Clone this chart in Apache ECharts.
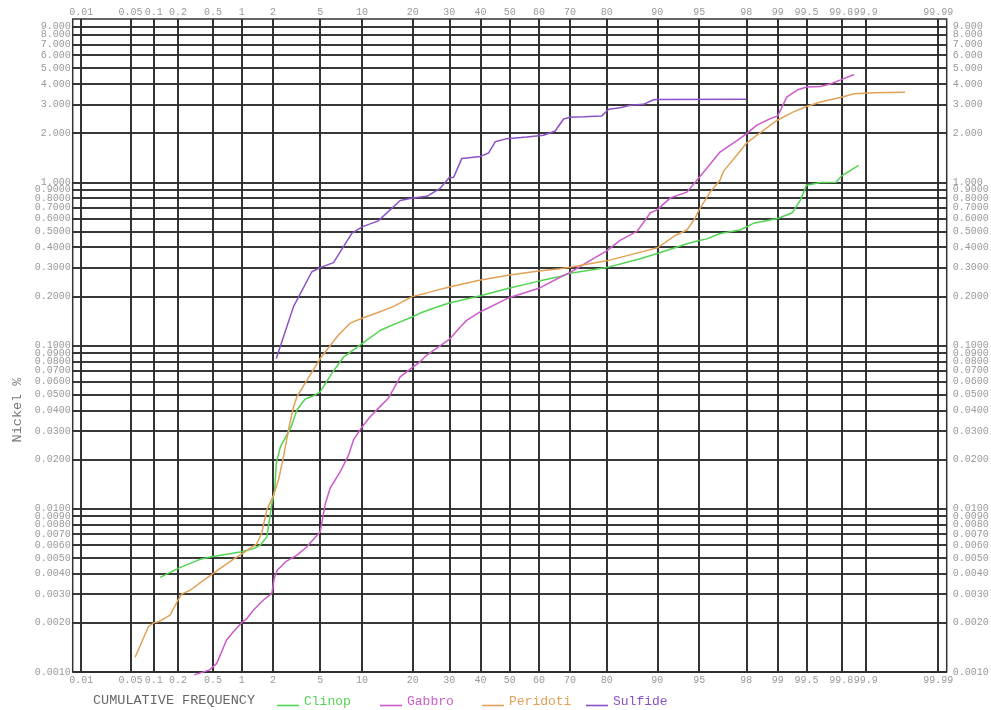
<!DOCTYPE html>
<html>
<head>
<meta charset="utf-8">
<script src="https://cdn.jsdelivr.net/npm/echarts@6/dist/echarts.min.js"></script>
<style>
  html, body { margin: 0; padding: 0; background: #fff; }
  #chart { width: 991px; height: 710px; }
</style>
</head>
<body>
<div id="chart"></div>
<script>
// tick values
const xTicks = [0.01, 0.05, 0.1, 0.2, 0.5, 1, 2, 5, 10, 20, 30, 40, 50, 60, 70, 80, 90, 95, 98, 99, 99.5, 99.8, 99.9, 99.99];
const yTicks = [0.001, 0.002, 0.003, 0.004, 0.005, 0.006, 0.007, 0.008, 0.009,
                0.01, 0.02, 0.03, 0.04, 0.05, 0.06, 0.07, 0.08, 0.09,
                0.1, 0.2, 0.3, 0.4, 0.5, 0.6, 0.7, 0.8, 0.9,
                1, 2, 3, 4, 5, 6, 7, 8, 9];

// cumulative frequency (%) and nickel (%) per series
const clinopPct = [0.121, 0.2, 0.36, 0.5, 0.76, 1.0, 1.31, 1.52, 1.75, 1.95, 2.07, 2.14, 2.33, 2.6, 2.89, 3.24, 3.56, 3.8, 4.4, 5.0, 6.13, 7.45, 10, 13.1, 16.4, 20, 21.9, 25.4, 30, 40, 50, 60, 66.9, 70, 80, 87.1, 90, 92.6, 93.8, 95, 95.65, 96.6, 97.72, 98.28, 99, 99.29, 99.42, 99.5, 99.65, 99.77, 99.8, 99.877];
const clinopNi = [0.0038, 0.00431, 0.0049, 0.0051, 0.0053, 0.00546, 0.0057, 0.006, 0.0067, 0.0107, 0.013, 0.019, 0.024, 0.0276, 0.0317, 0.0403, 0.0443, 0.047, 0.049, 0.052, 0.0675, 0.0848, 0.1027, 0.124, 0.137, 0.15, 0.158, 0.169, 0.182, 0.202, 0.225, 0.248, 0.265, 0.277, 0.3, 0.34, 0.366, 0.4, 0.42, 0.44, 0.45, 0.485, 0.51, 0.56, 0.6, 0.65, 0.78, 0.96, 0.995, 1.0, 1.09, 1.27];

const gabbroPct = [0.31, 0.46, 0.55, 0.7, 0.82, 1.0, 1.13, 1.31, 1.63, 1.95, 2.05, 2.18, 2.6, 3.24, 3.92, 5.0, 5.47, 5.96, 7.06, 8.09, 8.76, 10, 11.3, 12.7, 14.6, 17.1, 20, 21.9, 23.6, 30, 33.4, 35.5, 40, 50, 60, 66.9, 70, 77.5, 80, 83.1, 86.5, 87.1, 88.9, 90, 91.8, 93.8, 94.9, 95.9, 96.6, 97.57, 98, 98.4, 98.81, 99, 99.19, 99.37, 99.5, 99.65, 99.73, 99.8, 99.86];
const gabbroNi = [0.00096, 0.00103, 0.00113, 0.00157, 0.00176, 0.002, 0.00213, 0.0024, 0.00276, 0.00303, 0.00375, 0.0042, 0.00474, 0.0052, 0.00585, 0.00722, 0.0107, 0.0134, 0.0168, 0.0213, 0.0264, 0.0317, 0.0366, 0.0412, 0.0475, 0.0642, 0.0737, 0.0797, 0.0874, 0.109, 0.13, 0.143, 0.161, 0.197, 0.224, 0.262, 0.28, 0.35, 0.38, 0.44, 0.5, 0.53, 0.65, 0.68, 0.8, 0.87, 1.05, 1.29, 1.53, 1.8, 1.98, 2.24, 2.45, 2.55, 3.32, 3.67, 3.83, 3.86, 4.0, 4.25, 4.57];

const peridotiPct = [0.0575, 0.086, 0.1, 0.115, 0.16, 0.2, 0.22, 0.28, 0.36, 0.5, 0.6, 0.82, 1.0, 1.21, 1.41, 1.57, 1.75, 2.0, 2.24, 2.48, 2.74, 3.03, 3.24, 5.0, 6.86, 8.31, 10, 12.4, 15.6, 20, 23.6, 30, 40, 50, 60, 66.9, 70, 80, 86.5, 90, 92.4, 93.8, 94.6, 95, 95.9, 96.6, 96.83, 97.72, 98, 98.4, 98.98, 99.31, 99.5, 99.65, 99.8, 99.86, 99.92, 99.97];
const peridotiNi = [0.00123, 0.0019, 0.002, 0.00203, 0.00223, 0.00276, 0.003, 0.00318, 0.00352, 0.004, 0.00431, 0.00489, 0.00528, 0.00572, 0.0061, 0.0071, 0.0098, 0.0119, 0.015, 0.0208, 0.0303, 0.042, 0.0486, 0.0832, 0.116, 0.137, 0.147, 0.158, 0.173, 0.2, 0.21, 0.228, 0.252, 0.27, 0.286, 0.295, 0.302, 0.33, 0.368, 0.397, 0.47, 0.51, 0.6, 0.68, 0.87, 1.03, 1.17, 1.55, 1.73, 1.94, 2.39, 2.7, 2.91, 3.1, 3.32, 3.48, 3.53, 3.56];

const sulfidePct = [2.14, 3.03, 4.3, 5, 6.31, 8.53, 10, 12.7, 17.1, 20, 23.6, 27.3, 30, 31.3, 33.9, 40, 42.7, 45, 49, 55.9, 61.5, 65.4, 66, 68, 70, 73.9, 78.8, 80.5, 83.1, 85.2, 87.7, 89.4, 90, 98];
const sulfideNi = [0.0832, 0.173, 0.283, 0.3, 0.322, 0.486, 0.533, 0.58, 0.773, 0.8, 0.82, 0.917, 1.07, 1.07, 1.4, 1.44, 1.51, 1.77, 1.85, 1.89, 1.94, 2.06, 2.15, 2.44, 2.5, 2.52, 2.55, 2.8, 2.86, 2.96, 3.0, 3.2, 3.21, 3.22];

const seriesNames = ['Clinop', 'Gabbro', 'Peridoti', 'Sulfide'];

const FONT = 'Liberation Mono, DejaVu Sans Mono, monospace';

// inverse normal cdf (Acklam) -> probability axis
function probit(p) {
  const a = [-3.969683028665376e+01, 2.209460984245205e+02, -2.759285104469687e+02, 1.383577518672690e+02, -3.066479806614716e+01, 2.506628277459239e+00];
  const b = [-5.447609879822406e+01, 1.615858368580409e+02, -1.556989798598866e+02, 6.680131188771972e+01, -1.328068155288572e+01];
  const c = [-7.784894002430293e-03, -3.223964580411365e-01, -2.400758277161838e+00, -2.549732539343734e+00, 4.374664141464968e+00, 2.938163982698783e+00];
  const d = [7.784695709041462e-03, 3.224671290700398e-01, 2.445134137142996e+00, 3.754408661907416e+00];
  const pl = 0.02425;
  if (p < pl) {
    const q = Math.sqrt(-2 * Math.log(p));
    return (((((c[0]*q+c[1])*q+c[2])*q+c[3])*q+c[4])*q+c[5]) / ((((d[0]*q+d[1])*q+d[2])*q+d[3])*q+1);
  }
  if (p <= 1 - pl) {
    const q = p - 0.5, r = q * q;
    return (((((a[0]*r+a[1])*r+a[2])*r+a[3])*r+a[4])*r+a[5])*q / (((((b[0]*r+b[1])*r+b[2])*r+b[3])*r+b[4])*r+1);
  }
  const q = Math.sqrt(-2 * Math.log(1 - p));
  return -(((((c[0]*q+c[1])*q+c[2])*q+c[3])*q+c[4])*q+c[5]) / ((((d[0]*q+d[1])*q+d[2])*q+d[3])*q+1);
}

function pairs(pct, ni) {
  return pct.map((p, i) => [probit(p / 100), ni[i]]);
}

function yLabel(v) {
  return v < 1 ? v.toFixed(4) : v.toFixed(3);
}

const labelStyle = { fontFamily: FONT, fontSize: 10, color: '#999' };
const gridLine = { color: '#2b2b2b', width: 1.6, type: 'solid' };

function gridSeries(name, xPos, yPos, xDist, yDist) {
  const data = [];
  xTicks.forEach(p => data.push({
    xAxis: probit(p / 100), name: String(p),
    label: { position: xPos, distance: xDist }
  }));
  yTicks.forEach(v => data.push({
    yAxis: v, name: yLabel(v),
    label: { position: yPos, distance: yDist }
  }));
  return {
    name: name, type: 'line', data: [], silent: true,
    markLine: {
      silent: true, symbol: ['none', 'none'], z: 1, animation: false,
      precision: 12,
      lineStyle: gridLine,
      label: Object.assign({ show: true, formatter: '{b}' }, labelStyle),
      emphasis: { disabled: true },
      data: data
    }
  };
}

function curve(name, color, pct, ni) {
  return {
    name: name, type: 'line', data: pairs(pct, ni), z: 3,
    showSymbol: false, symbol: 'none', clip: false,
    lineStyle: { color: color, width: 1.5 },
    itemStyle: { color: color }
  };
}

const colors = ['#52d452', '#cc5ccc', '#e2a157', '#8a52c6'];
const legendLeft = [277, 380, 482, 586];
const legendIcon = 'path://M0,0M0,8h22v1.6h-22z';

const chart = echarts.init(document.getElementById('chart'), null, { renderer: 'canvas' });
chart.setOption({
  animation: false,
  backgroundColor: '#fff',
  grid: { left: 72.7, right: 44.3, top: 19, bottom: 38, show: true, borderColor: '#333', borderWidth: 1.5, backgroundColor: 'transparent' },
  xAxis: {
    type: 'value', min: probit(0.0000745), max: -probit(0.0000745),
    axisLine: { show: false }, axisTick: { show: false }, axisLabel: { show: false }, splitLine: { show: false }
  },
  yAxis: {
    type: 'log', logBase: 10, min: 0.001, max: 10,
    axisLine: { show: false }, axisTick: { show: false }, axisLabel: { show: false }, splitLine: { show: false }
  },
  legend: seriesNames.map((n, i) => ({
    left: legendLeft[i], top: 695, itemWidth: 22, itemHeight: 10, itemGap: 10,
    icon: legendIcon, selectedMode: false, padding: 0,
    textStyle: { fontFamily: FONT, fontSize: 13, color: colors[i] },
    data: [n]
  })),
  graphic: [
    { type: 'text', left: 93, top: 693, style: { text: 'CUMULATIVE FREQUENCY', font: '13.5px ' + FONT, fill: '#666' } },
    { type: 'text', x: 17, y: 410, rotation: Math.PI / 2,
      style: { text: 'Nickel %', font: '13.5px ' + FONT, fill: '#777', align: 'center', verticalAlign: 'middle' } }
  ],
  series: [
    gridSeries('gridA', 'start', 'start', 3, 2),
    gridSeries('gridB', 'end', 'end', 2, 6),
    curve(seriesNames[0], colors[0], clinopPct, clinopNi),
    curve(seriesNames[1], colors[1], gabbroPct, gabbroNi),
    curve(seriesNames[2], colors[2], peridotiPct, peridotiNi),
    curve(seriesNames[3], colors[3], sulfidePct, sulfideNi)
  ]
});
</script>
</body>
</html>
